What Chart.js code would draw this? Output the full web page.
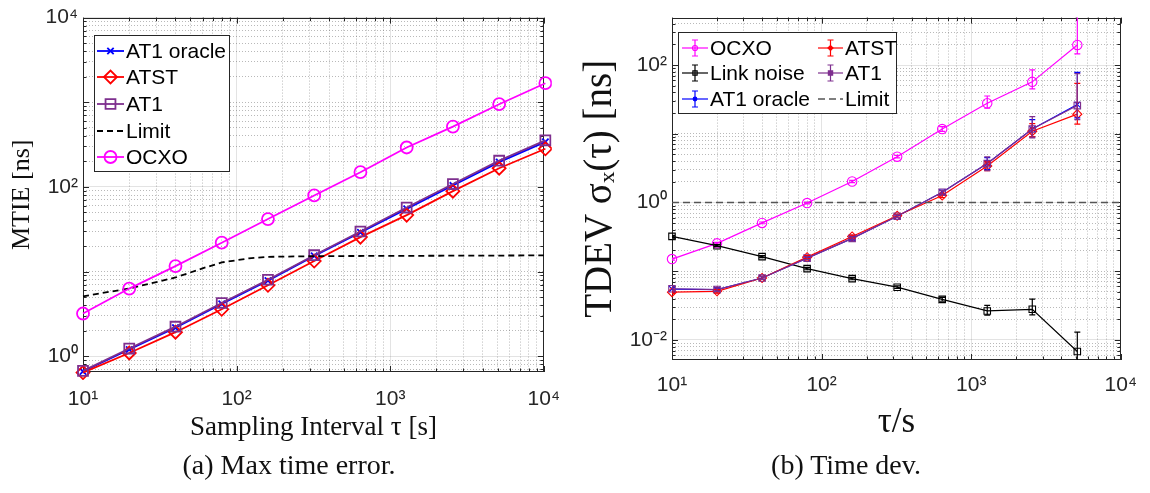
<!DOCTYPE html>
<html>
<head>
<meta charset="utf-8">
<script src="https://cdn.jsdelivr.net/npm/chart.js@4.4.1/dist/chart.umd.min.js"></script>
<style>
  html, body { margin: 0; padding: 0; background: #fff; }
  #wrap { position: relative; width: 1150px; height: 493px; overflow: hidden; }
  .pane { position: absolute; top: 0; }
  .cap { position: absolute; top: 451px; font: 28px/28px "Liberation Serif", serif; color: #111;
         white-space: nowrap; transform: translateX(-50%); }
</style>
</head>
<body>
<div id="wrap">
  <canvas id="mtie" class="pane" width="575" height="450" style="left:0"></canvas>
  <canvas id="tdev" class="pane" width="575" height="450" style="left:575px"></canvas>
  <div class="cap" style="left:289px">(a) Max time error.</div>
  <div class="cap" style="left:846px">(b) Time dev.</div>
</div>
<script>
/* =========================================================
   1. Data
========================================================= */
// (a) MTIE [ns] vs sampling interval tau [s]
const tauA       = [10, 20, 40, 80, 160, 320, 640, 1280, 2560, 5120, 10240];
const mtieOracle = [0.66, 1.20, 2.17, 4.15, 7.8, 15.3, 29.0, 55, 104, 196, 340];
const mtieAtst   = [0.64, 1.09, 1.92, 3.58, 6.87, 13.3, 25.5, 46.4, 89, 166, 282];
const mtieAt1    = [0.67, 1.23, 2.23, 4.25, 8.0, 15.6, 29.7, 57, 108, 204, 355];
const mtieOcxo   = [3.19, 6.29, 11.6, 21.9, 41.7, 79.2, 149, 292, 516, 948, 1678];
const tauLimitA  = [10, 20, 40, 60, 80, 120, 160, 320, 1000, 10000];
const mtieLimit  = [5.1, 6.3, 8.5, 10.9, 12.8, 14.3, 14.9, 15.2, 15.3, 15.5];

// (b) TDEV [ns] vs tau [s], with error bar bounds
const tauB       = [10, 20, 40, 80, 160, 320, 640, 1280, 2560, 5120];
const tdevOcxo   = [0.150, 0.254, 0.504, 0.98, 2.02, 4.64, 11.7, 27.8, 56.9, 196];
const tdevOcxoLo = [0.145, 0.246, 0.490, 0.955, 1.95, 4.45, 10.8, 23.5, 44.9, 145];
const tdevOcxoHi = [0.155, 0.262, 0.520, 1.005, 2.09, 4.85, 12.7, 35.4, 85, 600];
const tdevLink   = [0.321, 0.235, 0.163, 0.109, 0.078, 0.0585, 0.0389, 0.0264, 0.0279, 0.00679];
const tdevLinkLo = [0.310, 0.228, 0.157, 0.105, 0.075, 0.0560, 0.0365, 0.0229, 0.0231, 0.004];
const tdevLinkHi = [0.332, 0.243, 0.169, 0.114, 0.081, 0.0610, 0.0415, 0.0319, 0.0393, 0.013];
const tdevOracle   = [0.055, 0.054, 0.0797, 0.155, 0.30, 0.63, 1.41, 3.68, 11.7, 26.7];
const tdevOracleLo = [0.052, 0.051, 0.076, 0.148, 0.285, 0.60, 1.32, 3.0, 9.0, 17];
const tdevOracleHi = [0.058, 0.057, 0.084, 0.162, 0.315, 0.66, 1.50, 4.5, 16, 78];
const tdevAtst   = [0.0495, 0.051, 0.0797, 0.160, 0.32, 0.64, 1.26, 3.4, 10.9, 19.3];
const tdevAtstLo = [0.047, 0.048, 0.076, 0.152, 0.305, 0.61, 1.18, 2.9, 9.0, 13.8];
const tdevAtstHi = [0.052, 0.054, 0.084, 0.168, 0.335, 0.67, 1.34, 3.9, 14, 54];
const tdevAt1    = [0.0555, 0.054, 0.0797, 0.155, 0.30, 0.63, 1.41, 3.68, 11.7, 25.7];
const tdevAt1Lo  = [0.052, 0.051, 0.076, 0.148, 0.285, 0.60, 1.32, 2.9, 8.7, 16];
const tdevAt1Hi  = [0.059, 0.057, 0.084, 0.162, 0.315, 0.66, 1.50, 4.6, 17.8, 75];
const tauLimitB  = [10, 10000];
const tdevLimit  = [1, 1];

// labelled decades (exponents) per axis
const decA_x = [1, 2, 3, 4], decA_y = [0, 2, 4];
const decB_x = [1, 2, 3, 4], decB_y = [-2, 0, 2];

/* =========================================================
   2. Helpers
========================================================= */
const sup = { '-': '\u207B', '0': '\u2070', '1': '\u00B9', '2': '\u00B2', '3': '\u00B3', '4': '\u2074' };
const pow10 = e => '10' + String(e).split('').map(c => sup[c]).join('');
const expOf = v => Math.round(Math.log10(v));
const isDecade = v => Math.abs(Math.log10(v) - expOf(v)) < 1e-9;

// 1..9 x 10^n ticks inside [min, max]
const logTicks = (min, max) => {
  const out = [];
  for (let e = Math.floor(Math.log10(min)); e <= Math.ceil(Math.log10(max)); e++)
    for (let m = 1; m < 10; m++) {
      const v = m * Math.pow(10, e);
      if (v >= min * 0.999 && v <= max * 1.001) out.push({ value: v });
    }
  return out;
};

const pts = (xs, ys) => xs.map((x, i) => ({ x, y: ys[i] }));

const GRID_MAJ = 'rgba(38,38,38,0.13)';
const GRID_MIN = 'rgba(38,38,38,0.32)';

const logAxis = ({ min, max, labelled, size, horizontal, tickFont, tickPad, title }) => ({
  type: 'logarithmic',
  min, max,
  afterBuildTicks: s => { s.ticks = logTicks(min, max); },
  afterFit: s => { if (horizontal) s.height = size; else s.width = size; },
  ticks: {
    autoSkip: false, maxRotation: 0, padding: tickPad, color: '#262626',
    font: { family: '"Liberation Sans", Arial, sans-serif', size: tickFont },
    callback: v => (isDecade(v) && labelled.includes(expOf(v))) ? pow10(expOf(v)) : ''
  },
  grid: {
    drawTicks: false, lineWidth: 1,
    color: c => (isDecade(c.tick.value) && labelled.includes(expOf(c.tick.value))) ? GRID_MAJ : GRID_MIN
  },
  border: {
    display: false,
    dash: c => (isDecade(c.tick.value) && labelled.includes(expOf(c.tick.value))) ? [] : [1, 2]
  },
  title
});

/* ---- plugins ---- */
// box + inward ticks on all four sides (matlab style)
const frame = {
  id: 'frame',
  beforeDatasetsDraw(chart) {
    const { ctx, chartArea: a, scales: { x, y } } = chart;
    ctx.save();
    ctx.strokeStyle = '#262626';
    ctx.lineWidth = 1;
    ctx.beginPath();
    x.ticks.forEach(t => {
      const px = Math.round(x.getPixelForValue(t.value)) + 0.5, L = isDecade(t.value) ? 6 : 3.5;
      ctx.moveTo(px, a.bottom); ctx.lineTo(px, a.bottom - L);
      ctx.moveTo(px, a.top); ctx.lineTo(px, a.top + L);
    });
    y.ticks.forEach(t => {
      const py = Math.round(y.getPixelForValue(t.value)) + 0.5, L = isDecade(t.value) ? 6 : 3.5;
      ctx.moveTo(a.left, py); ctx.lineTo(a.left + L, py);
      ctx.moveTo(a.right, py); ctx.lineTo(a.right - L, py);
    });
    ctx.stroke();
    ctx.strokeRect(Math.round(a.left) + 0.5, Math.round(a.top) + 0.5, Math.round(a.width) - 1, Math.round(a.height) - 1);
    ctx.restore();
  }
};

// vertical error bars from ds.errLo / ds.errHi
const errBars = {
  id: 'errBars',
  afterDatasetsDraw(chart) {
    const { ctx, chartArea: a, scales: { y } } = chart;
    ctx.save();
    ctx.beginPath(); ctx.rect(a.left, a.top, a.width, a.height); ctx.clip();
    chart.data.datasets.forEach((ds, i) => {
      if (!ds.errLo) return;
      ctx.strokeStyle = ds.borderColor;
      ctx.lineWidth = 1.2;
      chart.getDatasetMeta(i).data.forEach((p, j) => {
        const y0 = y.getPixelForValue(ds.errLo[j]), y1 = y.getPixelForValue(ds.errHi[j]);
        ctx.beginPath();
        ctx.moveTo(p.x, y0); ctx.lineTo(p.x, y1);
        ctx.moveTo(p.x - 3, y0); ctx.lineTo(p.x + 3, y0);
        ctx.moveTo(p.x - 3, y1); ctx.lineTo(p.x + 3, y1);
        ctx.stroke();
      });
    });
    ctx.restore();
  }
};

// legend drawn inside the axes (plain config, kept out of the option resolver)
const boxLegend = cfg => ({
  id: 'boxLegend',
  afterDraw(chart) {
    const { ctx } = chart;
    const [l, t, r, b] = cfg.box;
    ctx.save();
    ctx.fillStyle = '#fff';
    ctx.fillRect(l, t, r - l, b - t);
    ctx.strokeStyle = '#262626';
    ctx.lineWidth = 1;
    ctx.strokeRect(l + 0.5, t + 0.5, r - l, b - t);
    ctx.font = cfg.font;
    ctx.textBaseline = 'middle';
    cfg.items.forEach(it => {
      ctx.strokeStyle = it.color;
      ctx.lineWidth = it.width;
      ctx.setLineDash(it.dash || []);
      ctx.beginPath(); ctx.moveTo(it.x0, it.y); ctx.lineTo(it.x1, it.y); ctx.stroke();
      ctx.setLineDash([]);
      const mx = (it.x0 + it.x1) / 2;
      if (it.err) {
        ctx.beginPath();
        ctx.moveTo(mx, it.y - it.err); ctx.lineTo(mx, it.y + it.err);
        ctx.moveTo(mx - 3, it.y - it.err); ctx.lineTo(mx + 3, it.y - it.err);
        ctx.moveTo(mx - 3, it.y + it.err); ctx.lineTo(mx + 3, it.y + it.err);
        ctx.stroke();
      }
      if (it.marker) {
        ctx.fillStyle = it.fill ? it.fill : 'rgba(255,255,255,0)';
        Chart.helpers.drawPoint(ctx, { pointStyle: it.marker, radius: it.r, borderWidth: it.width, rotation: 0 }, mx, it.y);
      }
      ctx.fillStyle = '#000';
      ctx.fillText(it.label, it.tx, it.y + 1);
    });
    ctx.restore();
  }
});

/* =========================================================
   3. (a) MTIE
========================================================= */
const BLUE = '#0000ff', RED = '#ff0000', PURPLE = '#7e2f8e', MAG = '#ff00ff', CLEAR = 'rgba(0,0,0,0)';

const lineA = (label, xs, ys, color, style, r, extra = {}) => ({
  label, data: pts(xs, ys), showLine: true, clip: 8,
  borderColor: color, borderWidth: 1.8, backgroundColor: CLEAR,
  pointStyle: style, pointRadius: r, pointBorderColor: color, pointBorderWidth: 1.8,
  pointBackgroundColor: CLEAR, ...extra
});

const dsA = [
  lineA('AT1 oracle', tauA, mtieOracle, BLUE, 'crossRot', 4.5),
  lineA('ATST', tauA, mtieAtst, RED, 'rectRot', 6.5),
  lineA('AT1', tauA, mtieAt1, PURPLE, 'rect', 7),
  lineA('Limit', tauLimitA, mtieLimit, '#000', false, 0, { borderDash: [6, 4], pointRadius: 0 }),
  lineA('OCXO', tauA, mtieOcxo, MAG, 'circle', 6)
];
dsA.forEach((d, i) => d.order = dsA.length - i);

const serif = '"Liberation Serif", "Times New Roman", serif';
const legendFont = '21px "Liberation Sans", Arial, sans-serif';

const legendA = {
  box: [94, 35, 229, 171], font: legendFont,
  items: [
    { label: 'AT1 oracle', color: BLUE,   width: 1.8, marker: 'crossRot', r: 4.5, x0: 97, x1: 124, y: 51,  tx: 126 },
    { label: 'ATST',       color: RED,    width: 1.8, marker: 'rectRot',  r: 6.5, x0: 97, x1: 124, y: 77,  tx: 126 },
    { label: 'AT1',        color: PURPLE, width: 1.8, marker: 'rect',     r: 7,   x0: 97, x1: 124, y: 104, tx: 126 },
    { label: 'Limit',      color: '#000', width: 1.8, dash: [6, 4],                x0: 97, x1: 124, y: 131, tx: 126 },
    { label: 'OCXO',       color: MAG,    width: 1.8, marker: 'circle',   r: 6,   x0: 97, x1: 124, y: 157, tx: 126 }
  ]
};

new Chart(document.getElementById('mtie'), {
  type: 'scatter',
  data: { datasets: dsA },
  plugins: [frame, boxLegend(legendA)],
  options: {
    responsive: false, animation: false, devicePixelRatio: 1,
    layout: { padding: { top: 12, right: 24, bottom: 0, left: 0 } },
    plugins: { legend: { display: false }, tooltip: { enabled: false } },
    scales: {
      x: logAxis({ min: 10, max: 10000, labelled: decA_x, size: 78, horizontal: true, tickFont: 21, tickPad: 15,
        title: { display: true, text: 'Sampling Interval \u03C4 [s]', color: '#111', padding: { top: 0, bottom: 6 },
                 font: { family: serif, size: 27 } } }),
      y: logAxis({ min: 0.65, max: 10000, labelled: decA_y, size: 83, horizontal: false, tickFont: 21, tickPad: 5,
        title: { display: true, text: 'MTIE [ns]', color: '#111', padding: { top: 7, bottom: 0 },
                 font: { family: serif, size: 26 } } })
    }
  }
});

/* =========================================================
   4. (b) TDEV
========================================================= */
const lineB = (label, ys, lo, hi, color, style, r) => ({
  label, data: pts(tauB, ys), showLine: true, clip: 8, errLo: lo, errHi: hi,
  borderColor: color, borderWidth: 1.2, backgroundColor: CLEAR,
  pointStyle: style, pointRadius: r, pointBorderColor: color, pointBorderWidth: 1.1,
  pointBackgroundColor: CLEAR
});

const dsB = [
  lineB('OCXO', tdevOcxo, tdevOcxoLo, tdevOcxoHi, MAG, 'circle', 4.7),
  lineB('Link noise', tdevLink, tdevLinkLo, tdevLinkHi, '#000', 'rect', 4.6),
  lineB('AT1 oracle', tdevOracle, tdevOracleLo, tdevOracleHi, BLUE, 'crossRot', 4),
  lineB('ATST', tdevAtst, tdevAtstLo, tdevAtstHi, RED, 'rectRot', 4.5),
  lineB('AT1', tdevAt1, tdevAt1Lo, tdevAt1Hi, PURPLE, 'rect', 4.6),
  { label: 'Limit', data: pts(tauLimitB, tdevLimit), showLine: true, borderColor: '#555', borderWidth: 1.5,
    borderDash: [7, 4], pointRadius: 0, backgroundColor: CLEAR }
];
dsB.forEach((d, i) => d.order = dsB.length - i);

const legendB = {
  box: [103, 32, 321, 113], font: legendFont,
  items: [
    { label: 'OCXO',       color: MAG,    width: 1.2, marker: 'circle',  r: 2.5, err: 8, x0: 107, x1: 133, y: 48, tx: 135 },
    { label: 'Link noise', color: '#000', width: 1.2, marker: 'rect',    r: 3,   err: 8, x0: 107, x1: 133, y: 73, tx: 135 },
    { label: 'AT1 oracle', color: BLUE,   width: 1.2, marker: 'circle',  r: 1.8, err: 8, x0: 107, x1: 133, y: 99, tx: 135, fill: BLUE },
    { label: 'ATST',       color: RED,    width: 1.2, marker: 'rectRot', r: 2.5, err: 8, x0: 243, x1: 268, y: 48, tx: 270, fill: RED },
    { label: 'AT1',        color: PURPLE, width: 1.2, marker: 'rect',    r: 3,   err: 8, x0: 243, x1: 268, y: 73, tx: 270, fill: PURPLE },
    { label: 'Limit',      color: '#555', width: 1.5, dash: [7, 4],              x0: 243, x1: 268, y: 99, tx: 270 }
  ]
};

new Chart(document.getElementById('tdev'), {
  type: 'scatter',
  data: { datasets: dsB },
  plugins: [frame, errBars, boxLegend(legendB)],
  options: {
    responsive: false, animation: false, devicePixelRatio: 1,
    layout: { padding: { top: 15, right: 29, bottom: 0, left: 0 } },
    plugins: { legend: { display: false }, tooltip: { enabled: false } },
    scales: {
      x: logAxis({ min: 10, max: 10000, labelled: decB_x, size: 90, horizontal: true, tickFont: 21, tickPad: 13,
        title: { display: true, text: '\u03C4/s', color: '#111', padding: { top: 0, bottom: 6 },
                 font: { family: serif, size: 35 } } }),
      y: logAxis({ min: 0.0051, max: 490, labelled: decB_y, size: 97, horizontal: false, tickFont: 21, tickPad: 5,
        title: { display: true, text: 'TDEV \u03C3\u2093(\u03C4) [ns]', color: '#111', padding: { top: 2, bottom: 0 },
                 font: { family: serif, size: 39 } } })
    }
  }
});
</script>
</body>
</html>
